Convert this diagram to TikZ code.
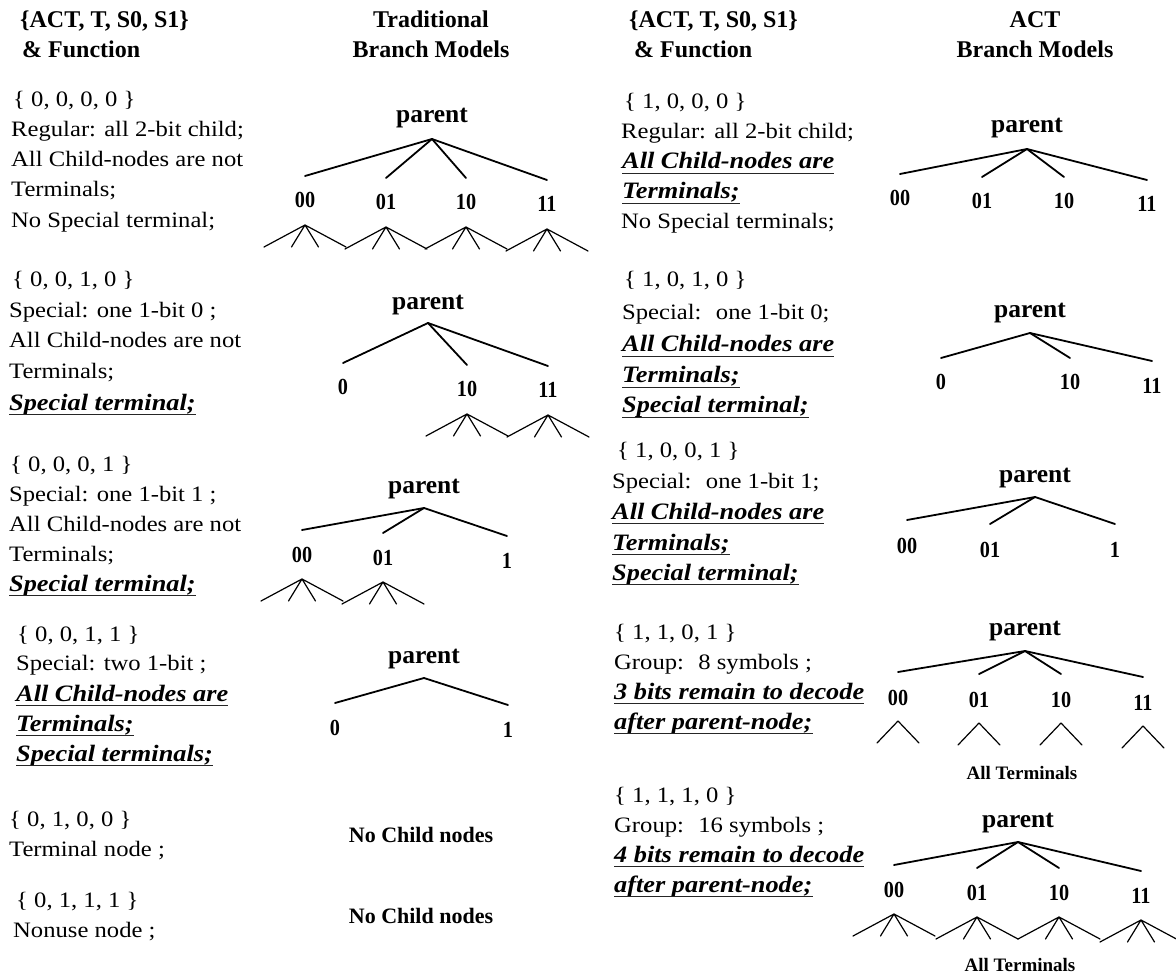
\documentclass[tikz,border=0pt]{standalone}
\usepackage{fontspec}
\setmainfont{Liberation Serif}
\newfontfamily\bodyfont{Liberation Serif}[FakeStretch=1.12]
\newfontfamily\digitfont{Liberation Serif}[FakeStretch=0.88]
\newcommand\ulnode[1]{\draw[uline] ([yshift=-4.5pt]#1.base west) -- ([yshift=-4.5pt]#1.base east);}
\begin{document}
\begin{tikzpicture}[x=1pt,y=-1pt,
  txt/.style={anchor=base west, inner sep=0pt, font=\bodyfont\fontsize{22}{26}\selectfont},
  emtxt/.style={anchor=base west, inner sep=0pt, font=\bodyfont\fontsize{23.5}{26}\selectfont\bfseries\itshape},
  hdr/.style={anchor=base west, inner sep=0pt, font=\fontsize{24}{28}\selectfont\bfseries},
  hdrc/.style={hdr, anchor=base},
  ptxt/.style={anchor=base, inner sep=0pt, font=\fontsize{25.5}{28}\selectfont\bfseries},
  clab/.style={anchor=base, inner sep=0pt, font=\digitfont\fontsize{23}{26}\selectfont\bfseries},
  nochild/.style={anchor=base, inner sep=0pt, font=\fontsize{22}{26}\selectfont\bfseries},
  allterm/.style={anchor=base, inner sep=0pt, font=\fontsize{19}{22}\selectfont\bfseries},
  branch/.style={line width=1.8pt, line cap=round},
  twig/.style={line width=1.2pt, line cap=round},
  uline/.style={line width=1.8pt, black!85},
  fan/.pic={\draw[twig] (0,0) -- (-41,22) (0,0) -- (-13.5,22) (0,0) -- (13.5,22) (0,0) -- (41,22);},
  hat/.pic={\draw[twig] (0,0) -- (-21,22) (0,0) -- (21,22);}
]
\useasboundingbox (0,0) rectangle (1176,976);

% ---------- column headings ----------
\node[hdr] (hl1) at (20,28) {\{ACT, T, S0, S1\}};
\node[hdr] (hl2) at (22,58) {\& Function};
\node[hdrc] (ht1) at (431,28) {Traditional};
\node[hdrc] (ht2) at (431,58) {Branch Models};
\node[hdr] (hr1) at (629,28) {\{ACT, T, S0, S1\}};
\node[hdr] (hr2) at (634,58) {\& Function};
\node[hdrc] (ha1) at (1035,28) {ACT};
\node[hdrc] (ha2) at (1035,58) {Branch Models};

% ---------- traditional: descriptions ----------
\node[txt] (a0) at (13,107) {\{ 0, 0, 0, 0 \}};
\node[txt] (a1) at (11,137) {Regular: all 2-bit child;};
\node[txt] (a2) at (11,167) {All Child-nodes are not};
\node[txt] (a3) at (11,197) {Terminals;};
\node[txt] (a4) at (11,228) {No Special terminal;};

\node[txt] (b0) at (12,287) {\{ 0, 0, 1, 0 \}};
\node[txt] (b1) at (9,318) {Special: one 1-bit 0 ;};
\node[txt] (b2) at (9,348) {All Child-nodes are not};
\node[txt] (b3) at (9,379) {Terminals;};
\node[emtxt] (b4) at (9,410) {Special terminal;};
\ulnode{b4}

\node[txt] (c0) at (10,471) {\{ 0, 0, 0, 1 \}};
\node[txt] (c1) at (9,501) {Special: one 1-bit 1 ;};
\node[txt] (c2) at (9,531) {All Child-nodes are not};
\node[txt] (c3) at (9,561) {Terminals;};
\node[emtxt] (c4) at (9,591) {Special terminal;};
\ulnode{c4}

\node[txt] (d0) at (17,641) {\{ 0, 0, 1, 1 \}};
\node[txt] (d1) at (16,670) {Special: two 1-bit ;};
\node[emtxt] (d2) at (16,701) {All Child-nodes are};
\node[emtxt] (d3) at (16,731) {Terminals;};
\node[emtxt] (d4) at (16,761) {Special terminals;};
\ulnode{d2}\ulnode{d3}\ulnode{d4}

\node[txt] (e0) at (9,826) {\{ 0, 1, 0, 0 \}};
\node[txt] (e1) at (9,856) {Terminal node ;};
\node[txt] (f0) at (16,907) {\{ 0, 1, 1, 1 \}};
\node[txt] (f1) at (13,937) {Nonuse node ;};

\node[nochild] (nc1) at (421,842) {No Child nodes};
\node[nochild] (nc2) at (421,923) {No Child nodes};

% ---------- traditional: trees ----------
% {0,0,0,0}
\node[ptxt] (tp1) at (432,123) {parent};
\coordinate (ta1) at ([yshift=-16pt]tp1.base);
\node[clab] (t1a) at (305,208) {00};
\node[clab] (t1b) at (386,210) {01};
\node[clab] (t1c) at (466,210) {10};
\node[clab] (t1d) at (547,212) {11};
\foreach \k in {t1a,t1b,t1c,t1d}{
  \draw[branch] (ta1) -- ([yshift=32pt]\k.base);
  \pic at ([yshift=-17pt]\k.base) {fan};
}
% {0,0,1,0}
\node[ptxt] (tp2) at (428,310) {parent};
\coordinate (ta2) at ([yshift=-13pt]tp2.base);
\node[clab] (t2a) at (343,395) {0};
\node[clab] (t2b) at (467,397) {10};
\node[clab] (t2c) at (548,398) {11};
\foreach \k in {t2a,t2b,t2c}{\draw[branch] (ta2) -- ([yshift=32pt]\k.base);}
\foreach \k in {t2b,t2c}{\pic at ([yshift=-17pt]\k.base) {fan};}
% {0,0,0,1}
\node[ptxt] (tp3) at (424,493) {parent};
\coordinate (ta3) at ([yshift=-15pt]tp3.base);
\node[clab] (t3a) at (302,562) {00};
\node[clab] (t3b) at (383,565) {01};
\node[clab] (t3c) at (507,568) {1};
\foreach \k in {t3a,t3b,t3c}{\draw[branch] (ta3) -- ([yshift=32pt]\k.base);}
\foreach \k in {t3a,t3b}{\pic at ([yshift=-17pt]\k.base) {fan};}
% {0,0,1,1}
\node[ptxt] (tp4) at (424,663) {parent};
\coordinate (ta4) at ([yshift=-15pt]tp4.base);
\node[clab] (t4a) at (335,735) {0};
\node[clab] (t4b) at (508,737) {1};
\foreach \k in {t4a,t4b}{\draw[branch] (ta4) -- ([yshift=32pt]\k.base);}

% ---------- ACT: descriptions ----------
\node[txt] (g0) at (624,109) {\{ 1, 0, 0, 0 \}};
\node[txt] (g1) at (621,139) {Regular: all 2-bit child;};
\node[emtxt] (g2) at (622,169) {All Child-nodes are};
\node[emtxt] (g3) at (622,199) {Terminals;};
\node[txt] (g4) at (621,229) {No Special terminals;};
\ulnode{g2}\ulnode{g3}

\node[txt] (h0) at (624,287) {\{ 1, 0, 1, 0 \}};
\node[txt] (h1) at (622,320) {Special:~ one 1-bit 0;};
\node[emtxt] (h2) at (622,352) {All Child-nodes are};
\node[emtxt] (h3) at (622,383) {Terminals;};
\node[emtxt] (h4) at (622,413) {Special terminal;};
\ulnode{h2}\ulnode{h3}\ulnode{h4}

\node[txt] (i0) at (617,457) {\{ 1, 0, 0, 1 \}};
\node[txt] (i1) at (612,488) {Special:~ one 1-bit 1;};
\node[emtxt] (i2) at (612,519) {All Child-nodes are};
\node[emtxt] (i3) at (612,550) {Terminals;};
\node[emtxt] (i4) at (612,580) {Special terminal;};
\ulnode{i2}\ulnode{i3}\ulnode{i4}

\node[txt] (j0) at (614,639) {\{ 1, 1, 0, 1 \}};
\node[txt] (j1) at (614,669) {Group:~ 8 symbols ;};
\node[emtxt] (j2) at (614,699) {3 bits remain to decode};
\node[emtxt] (j3) at (614,729) {after parent-node;};
\ulnode{j2}\ulnode{j3}

\node[txt] (k0) at (614,802) {\{ 1, 1, 1, 0 \}};
\node[txt] (k1) at (614,832) {Group:~ 16 symbols ;};
\node[emtxt] (k2) at (614,862) {4 bits remain to decode};
\node[emtxt] (k3) at (614,892) {after parent-node;};
\ulnode{k2}\ulnode{k3}

% ---------- ACT: trees ----------
% {1,0,0,0}
\node[ptxt] (rp1) at (1027,133) {parent};
\coordinate (ra1) at ([yshift=-16pt]rp1.base);
\node[clab] (r1a) at (900,206) {00};
\node[clab] (r1b) at (982,209) {01};
\node[clab] (r1c) at (1064,209) {10};
\node[clab] (r1d) at (1147,212) {11};
\foreach \k in {r1a,r1b,r1c,r1d}{\draw[branch] (ra1) -- ([yshift=32pt]\k.base);}
% {1,0,1,0}
\node[ptxt] (rp2) at (1030,318) {parent};
\coordinate (ra2) at ([yshift=-15pt]rp2.base);
\node[clab] (r2a) at (941,390) {0};
\node[clab] (r2b) at (1070,390) {10};
\node[clab] (r2c) at (1152,393) {11};
\foreach \k in {r2a,r2b,r2c}{\draw[branch] (ra2) -- ([yshift=32pt]\k.base);}
% {1,0,0,1}
\node[ptxt] (rp3) at (1035,482) {parent};
\coordinate (ra3) at ([yshift=-15pt]rp3.base);
\node[clab] (r3a) at (907,553) {00};
\node[clab] (r3b) at (990,557) {01};
\node[clab] (r3c) at (1115,557) {1};
\foreach \k in {r3a,r3b,r3c}{\draw[branch] (ra3) -- ([yshift=33pt]\k.base);}
% {1,1,0,1}
\node[ptxt] (rp4) at (1025,635) {parent};
\coordinate (ra4) at ([yshift=-16pt]rp4.base);
\node[clab] (r4a) at (898,705) {00};
\node[clab] (r4b) at (979,707) {01};
\node[clab] (r4c) at (1061,707) {10};
\node[clab] (r4d) at (1143,710) {11};
\foreach \k in {r4a,r4b,r4c,r4d}{
  \draw[branch] (ra4) -- ([yshift=33pt]\k.base);
  \pic at ([yshift=-16pt]\k.base) {hat};
}
\node[allterm] (at1) at (1022,779) {All Terminals};
% {1,1,1,0}
\node[ptxt] (rp5) at (1018,827) {parent};
\coordinate (ra5) at ([yshift=-15pt]rp5.base);
\node[clab] (r5a) at (894,897) {00};
\node[clab] (r5b) at (977,900) {01};
\node[clab] (r5c) at (1059,900) {10};
\node[clab] (r5d) at (1141,903) {11};
\foreach \k in {r5a,r5b,r5c,r5d}{
  \draw[branch] (ra5) -- ([yshift=32pt]\k.base);
  \pic at ([yshift=-17pt]\k.base) {fan};
}
\node[allterm] (at2) at (1020,971) {All Terminals};
\end{tikzpicture}
\end{document}
